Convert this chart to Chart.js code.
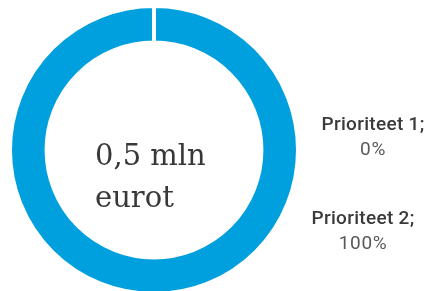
<!DOCTYPE html>
<html>
<head>
<meta charset="utf-8">
<script src="https://cdn.jsdelivr.net/npm/chart.js@4"></script>
<style>
  html, body { margin: 0; padding: 0; background: #fff; overflow: hidden; }
  #wrap { position: relative; width: 428px; height: 300px; }
</style>
</head>
<body>
<div id="wrap"><canvas id="chart"></canvas></div>
<script>
// ANDMED
const categories = ["Prioriteet 1", "Prioriteet 2"];
const shares = [0, 100];
const centerLines = ["0,5 mln", "eurot"];

// sildi asukohad (px)
const labelPos = [
  { x: 373, y: 125 },
  { x: 363, y: 219 }
];

const labelsPlugin = {
  id: "labels",
  afterDraw(chart) {
    const ctx = chart.ctx;
    ctx.save();
    ctx.textBaseline = "middle";
    ctx.textAlign = "center";
    categories.forEach((cat, i) => {
      const p = labelPos[i];
      ctx.fillStyle = "#3a3a3a";
      ctx.font = "500 19px Roboto";
      ctx.letterSpacing = "0.3px";
      ctx.fillText(cat + ";", p.x, p.y);
      ctx.fillStyle = "#595959";
      ctx.font = "400 19px Roboto";
      ctx.letterSpacing = "0.6px";
      ctx.fillText(shares[i] + "%", p.x, p.y + 25);
    });
    ctx.letterSpacing = "0px";

    // keskmine tekst
    ctx.textAlign = "left";
    ctx.textBaseline = "alphabetic";
    ctx.fillStyle = "#383838";
    ctx.font = "29px 'DejaVu Serif'";
    ctx.fillText(centerLines[0], 95, 165);
    ctx.fillText(centerLines[1], 95, 207);
    ctx.restore();
  }
};

new Chart(document.getElementById("chart").getContext("2d"), {
  type: "doughnut",
  data: {
    labels: categories,
    datasets: [
      {
        data: shares,
        backgroundColor: ["#00A0DE", "#00A0DE"],
        borderColor: "#ffffff",
        borderWidth: 4
      }
    ]
  },
  options: {
    responsive: true,
    maintainAspectRatio: false,
    animation: false,
    cutout: "74.6%",
    layout: { padding: { top: 4, bottom: 4, left: 8, right: 128 } },
    plugins: {
      legend: { display: false },
      tooltip: { enabled: false }
    }
  },
  plugins: [labelsPlugin]
});
</script>
</body>
</html>
